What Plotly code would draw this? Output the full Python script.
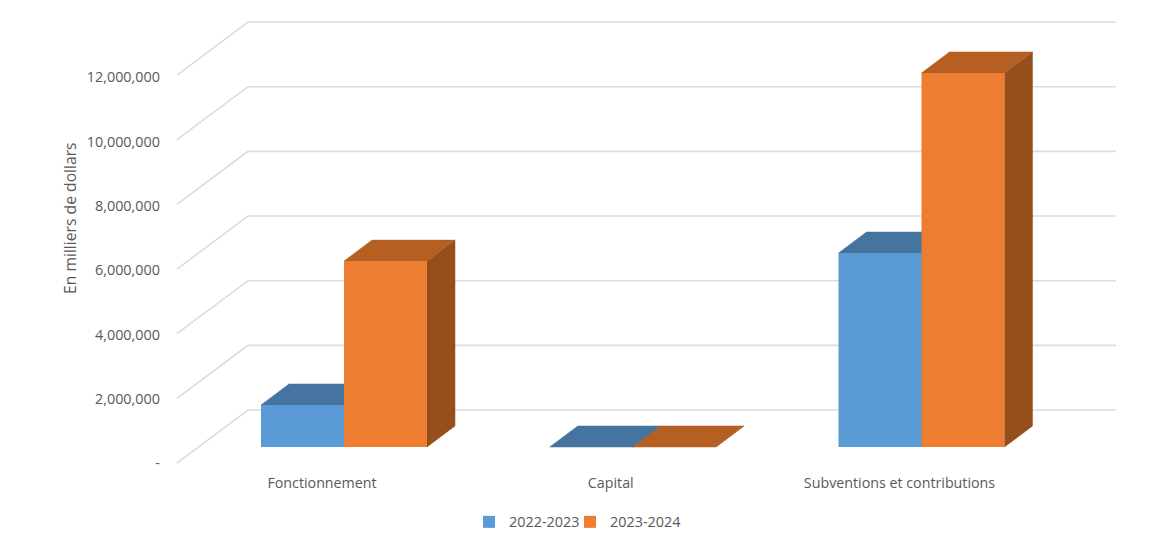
import plotly.graph_objects as go

categories = ["Fonctionnement", "Capital", "Subventions et contributions"]
series_names = ["2022-2023", "2023-2024"]
values_2022 = [1300000, 0, 6000000]
values_2023 = [5750000, 0, 11570000]
tick_values = [0, 2000000, 4000000, 6000000, 8000000, 10000000, 12000000]
tick_labels = ["-", "2,000,000", "4,000,000", "6,000,000", "8,000,000", "10,000,000", "12,000,000"]

W, H = 1170, 549
X0_PX, X_STEP_PX = 344.0, 288.75     # pixel of first category centre, spacing
Y0_PX, PX_PER_UNIT = 447.0, 32.33 / 1e6  # pixel of the floor under the bars, scale
BAR_W = 83.0 / X_STEP_PX
DX, DY = 28.0 / X_STEP_PX, 21.0 / PX_PER_UNIT
FRONT_DY = (Y0_PX - 463.0) / PX_PER_UNIT
BACK_DY = (Y0_PX - 410.0) / PX_PER_UNIT
GRID_L, GRID_M, GRID_R = [(p - X0_PX) / X_STEP_PX for p in (177.0, 248.0, 1116.0)]
LABEL_SHIFT = -22.0 / X_STEP_PX

LABEL_Y0_PX, LABEL_PX_PER_UNIT = 463.2, 32.17 / 1e6

x_range = [(0 - X0_PX) / X_STEP_PX, (W - X0_PX) / X_STEP_PX]
y_range = [(Y0_PX - H) / PX_PER_UNIT, Y0_PX / PX_PER_UNIT]
y_range_labels = [(LABEL_Y0_PX - H) / LABEL_PX_PER_UNIT, LABEL_Y0_PX / LABEL_PX_PER_UNIT]

BLUE, BLUE_TOP, BLUE_SIDE = "#5B9BD5", "#44749F", "#335A80"
ORANGE, ORANGE_TOP, ORANGE_SIDE = "#ED7D31", "#B55F22", "#964F1C"
TEXT = "#595959"
FONT = "Open Sans"

fig = go.Figure()

# gridlines: front-plane diagonal then along the back wall
gx, gy = [], []
for v in tick_values:
    gx += [GRID_L, GRID_M, GRID_R, None]
    gy += [v + FRONT_DY, v + BACK_DY, v + BACK_DY, None]
fig.add_trace(go.Scatter(x=gx, y=gy, mode="lines", line=dict(color="#DCDCDC", width=1.6),
                         showlegend=False, hoverinfo="skip"))


def polygons(values, left_offset, face):
    xs, ys = [], []
    for i, v in enumerate(values):
        xl = i + left_offset
        xr = xl + BAR_W
        if face == "top":
            xs += [xl, xr, xr + DX, xl + DX, xl, None]
            ys += [v, v, v + DY, v + DY, v, None]
        else:
            xs += [xr, xr, xr + DX, xr + DX, xr, None]
            ys += [0, v, v + DY, DY, 0, None]
    return xs, ys


for values, offs, top_col, side_col in [
    (values_2022, -BAR_W, BLUE_TOP, BLUE_SIDE),
    (values_2023, 0.0, ORANGE_TOP, ORANGE_SIDE),
]:
    for face, col in (("side", side_col), ("top", top_col)):
        xs, ys = polygons(values, offs, face)
        fig.add_trace(go.Scatter(x=xs, y=ys, mode="lines", fill="toself", fillcolor=col,
                                 line=dict(color=col, width=0.5),
                                 showlegend=False, hoverinfo="skip"))

# front faces, on an overlaying axis so they sit above the top and side faces
idx = list(range(len(categories)))
fig.add_trace(go.Bar(x=idx, y=values_2022, width=BAR_W, offset=-BAR_W, name=series_names[0],
                     marker=dict(color=BLUE, line=dict(width=0)), yaxis="y2", legend="legend"))
fig.add_trace(go.Bar(x=idx, y=values_2023, width=BAR_W, offset=0, name=series_names[1],
                     marker=dict(color=ORANGE, line=dict(width=0)), yaxis="y2", legend="legend2"))
# invisible carrier for the value-axis labels
fig.add_trace(go.Scatter(x=[None], y=[None], yaxis="y3", showlegend=False, hoverinfo="skip"))

hidden_y = dict(range=y_range, showgrid=False, zeroline=False, showticklabels=False,
                ticks="", showline=False, fixedrange=True)
legend_common = dict(orientation="h", xanchor="left", y=(H - 522.0) / H, yanchor="middle",
                     font=dict(family=FONT, size=14.4, color=TEXT), bgcolor="rgba(0,0,0,0)")

fig.update_layout(
    width=W, height=H, autosize=False,
    margin=dict(l=0, r=0, t=0, b=0, pad=0),
    paper_bgcolor="white", plot_bgcolor="white",
    font=dict(family=FONT, size=14, color=TEXT),
    barmode="overlay",
    xaxis=dict(range=x_range, tickmode="array",
               tickvals=[i + LABEL_SHIFT for i in idx], ticktext=categories,
               showgrid=False, zeroline=False, showline=False, ticks="",
               anchor="free", position=(H - 473.0) / H,
               tickfont=dict(family=FONT, size=14.25, color=TEXT), fixedrange=True),
    yaxis=dict(**hidden_y),
    yaxis2=dict(**hidden_y, overlaying="y"),
    yaxis3=dict(range=y_range_labels, overlaying="y", anchor="free", position=160.0 / W,
                side="left", tickmode="array", tickvals=tick_values, ticktext=tick_labels,
                showgrid=False, zeroline=False, showline=False, ticks="",
                tickfont=dict(family=FONT, size=14.4, color=TEXT), fixedrange=True),
    legend=dict(x=469.0 / W, **legend_common),
    legend2=dict(x=570.0 / W, **legend_common),
    annotations=[dict(text="En milliers de dollars", textangle=-90, showarrow=False,
                      xref="paper", yref="paper", x=70.0 / W, y=(H - 218.0) / H,
                      xanchor="center", yanchor="middle",
                      font=dict(family=FONT, size=15.7, color=TEXT))],
)

fig.write_html("out.html", config=dict(displayModeBar=False),
               post_script="document.body.style.margin='0';document.documentElement.style.overflow='hidden';")
